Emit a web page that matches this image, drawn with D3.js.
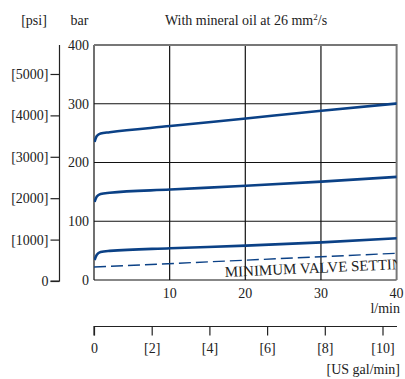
<!DOCTYPE html>
<html>
<head>
<meta charset="utf-8">
<script src="https://cdn.jsdelivr.net/npm/d3@7"></script>
<style>
  html, body { margin: 0; padding: 0; background: #fff; }
  svg { display: block; font-family: "Liberation Serif", "DejaVu Serif", serif; }
</style>
</head>
<body>
<div id="chart"></div>
<script>
// pressure vs flow
const barTicks = [0, 100, 200, 300, 400];
const flowTicks = [10, 20, 30, 40];
const psiTicks = [0, 1000, 2000, 3000, 4000, 5000];
const galTicks = [0, 2, 4, 6, 8, 10];

const curveHigh = [[0, 235], [0.3, 245], [0.8, 249.5], [2, 251.5], [10, 262], [20, 275], [30, 288], [40, 300.5]];
const curveMid = [[0, 133], [0.3, 142], [0.8, 146.5], [2, 148.5], [10, 154], [20, 160.5], [30, 167.5], [40, 175.5]];
const curveLow = [[0, 34], [0.3, 43], [0.8, 47.5], [2, 49.5], [10, 54], [20, 58.5], [30, 64], [40, 71]];
const minSetting = [[0, 22], [40, 45.5]];

const width = 405, height = 379;
const plotLeft = 94, plotRight = 396.6, plotTop = 45, plotBottom = 280;

const svg = d3.select('#chart').append('svg')
    .attr('width', width)
    .attr('height', height);

const x = d3.scaleLinear().domain([0, 40]).range([plotLeft, plotRight]);
const y = d3.scaleLinear().domain([0, 400]).range([plotBottom, plotTop]);
const yPsi = d3.scaleLinear().domain([0, 5700]).range([281, 45]);
const xGal = d3.scaleLinear().domain([0, 10]).range([94, 382.5]);

const ink = '#222';
const blue = '#0b4186';

// titles
svg.append('text').attr('x', 34).attr('y', 25).attr('text-anchor', 'middle')
    .attr('font-size', 14).attr('fill', ink).text('[psi]');
svg.append('text').attr('x', 79.5).attr('y', 25).attr('text-anchor', 'middle')
    .attr('font-size', 14).attr('fill', ink).text('bar');
const title = svg.append('text').attr('x', 246).attr('y', 25).attr('text-anchor', 'middle')
    .attr('font-size', 14).attr('fill', ink);
title.append('tspan').text('With mineral oil at 26 mm');
title.append('tspan').attr('font-size', 9).attr('dy', -5).text('2');
title.append('tspan').attr('dy', 5).text('/s');

// grid
const grid = svg.append('g');
grid.selectAll('.hgrid')
    .data(barTicks.filter(d => d < 400))
    .join('line')
    .attr('x1', plotLeft).attr('x2', plotRight)
    .attr('y1', d => y(d)).attr('y2', d => y(d))
    .attr('stroke', '#111').attr('stroke-width', 1.2);
grid.selectAll('.vgrid')
    .data([0].concat(flowTicks.filter(d => d < 40)))
    .join('line')
    .attr('x1', d => x(d)).attr('x2', d => x(d))
    .attr('y1', plotTop).attr('y2', plotBottom)
    .attr('stroke', '#111').attr('stroke-width', 1.2);
// top and right border are lighter
grid.append('line').attr('x1', plotLeft).attr('x2', plotRight).attr('y1', y(400)).attr('y2', y(400))
    .attr('stroke', '#777').attr('stroke-width', 2);
grid.append('line').attr('x1', x(40)).attr('x2', x(40)).attr('y1', plotTop - 1).attr('y2', plotBottom)
    .attr('stroke', '#777').attr('stroke-width', 2);

// bar labels
svg.selectAll('.barLabel')
    .data(barTicks)
    .join('text')
    .attr('x', 89).attr('y', d => y(d)).attr('dy', '0.35em')
    .attr('text-anchor', 'end').attr('font-size', 14).attr('fill', ink)
    .text(d => d);

// flow labels
svg.selectAll('.flowLabel')
    .data(flowTicks)
    .join('text')
    .attr('x', d => x(d)).attr('y', 298)
    .attr('text-anchor', 'middle').attr('font-size', 14).attr('fill', ink)
    .text(d => d);
svg.append('text').attr('x', 400).attr('y', 313).attr('text-anchor', 'end')
    .attr('font-size', 14).attr('fill', ink).text('l/min');

// psi axis
const psiAxis = d3.axisLeft(yPsi).tickValues(psiTicks).tickSize(9).tickPadding(2)
    .tickFormat(d => d === 0 ? '0' : '[' + d + ']');
svg.append('g').attr('transform', 'translate(59.5,0)').call(psiAxis)
    .call(g => g.select('.domain').attr('d', `M-0,${yPsi(5700)}V${yPsi(0)}H-9`).attr('stroke', ink).attr('stroke-width', 1.2))
    .call(g => g.selectAll('.tick line').attr('stroke', ink).attr('stroke-width', 1.2))
    .call(g => g.selectAll('.tick text').attr('font-size', 14).attr('fill', ink)
        .attr('font-family', '"Liberation Serif", serif'));

// US gal axis
const galAxis = d3.axisBottom(xGal).tickValues(galTicks).tickSize(9).tickPadding(8)
    .tickFormat(d => d === 0 ? '0' : '[' + d + ']');
svg.append('g').attr('transform', 'translate(0,326.5)').call(galAxis)
    .call(g => g.select('.domain').attr('d', `M${xGal(0)},9V0H397`).attr('stroke', ink).attr('stroke-width', 1.2))
    .call(g => g.selectAll('.tick line').attr('stroke', ink).attr('stroke-width', 1.2))
    .call(g => g.selectAll('.tick text').attr('font-size', 14).attr('fill', ink)
        .attr('font-family', '"Liberation Serif", serif'));
svg.append('text').attr('x', 400).attr('y', 374).attr('text-anchor', 'end')
    .attr('font-size', 14).attr('fill', ink).text('[US gal/min]');

// curves
svg.append('clipPath').attr('id', 'plotClip')
    .append('rect').attr('x', plotLeft).attr('y', plotTop)
    .attr('width', plotRight - plotLeft).attr('height', plotBottom - plotTop);

const line = d3.line().x(d => x(d[0])).y(d => y(d[1])).curve(d3.curveMonotoneX);
const plot = svg.append('g').attr('clip-path', 'url(#plotClip)');

plot.selectAll('.curve')
    .data([curveHigh, curveMid, curveLow])
    .join('path')
    .attr('d', d => line(d.map(p => [p[0] + 0.07, p[1]])))
    .attr('fill', 'none')
    .attr('stroke', blue)
    .attr('stroke-width', 2.6);

plot.append('path')
    .attr('d', d3.line().x(d => x(d[0])).y(d => y(d[1]))(minSetting))
    .attr('fill', 'none')
    .attr('stroke', blue)
    .attr('stroke-width', 1.4)
    .attr('stroke-dasharray', '12,5');

const angle = Math.atan2(y(minSetting[1][1]) - y(minSetting[0][1]), x(40) - x(0)) * 180 / Math.PI;
plot.append('text')
    .attr('transform', `translate(225,277) rotate(${angle})`)
    .attr('font-size', 15).attr('fill', ink)
    .text('MINIMUM VALVE SETTING');
</script>
</body>
</html>
